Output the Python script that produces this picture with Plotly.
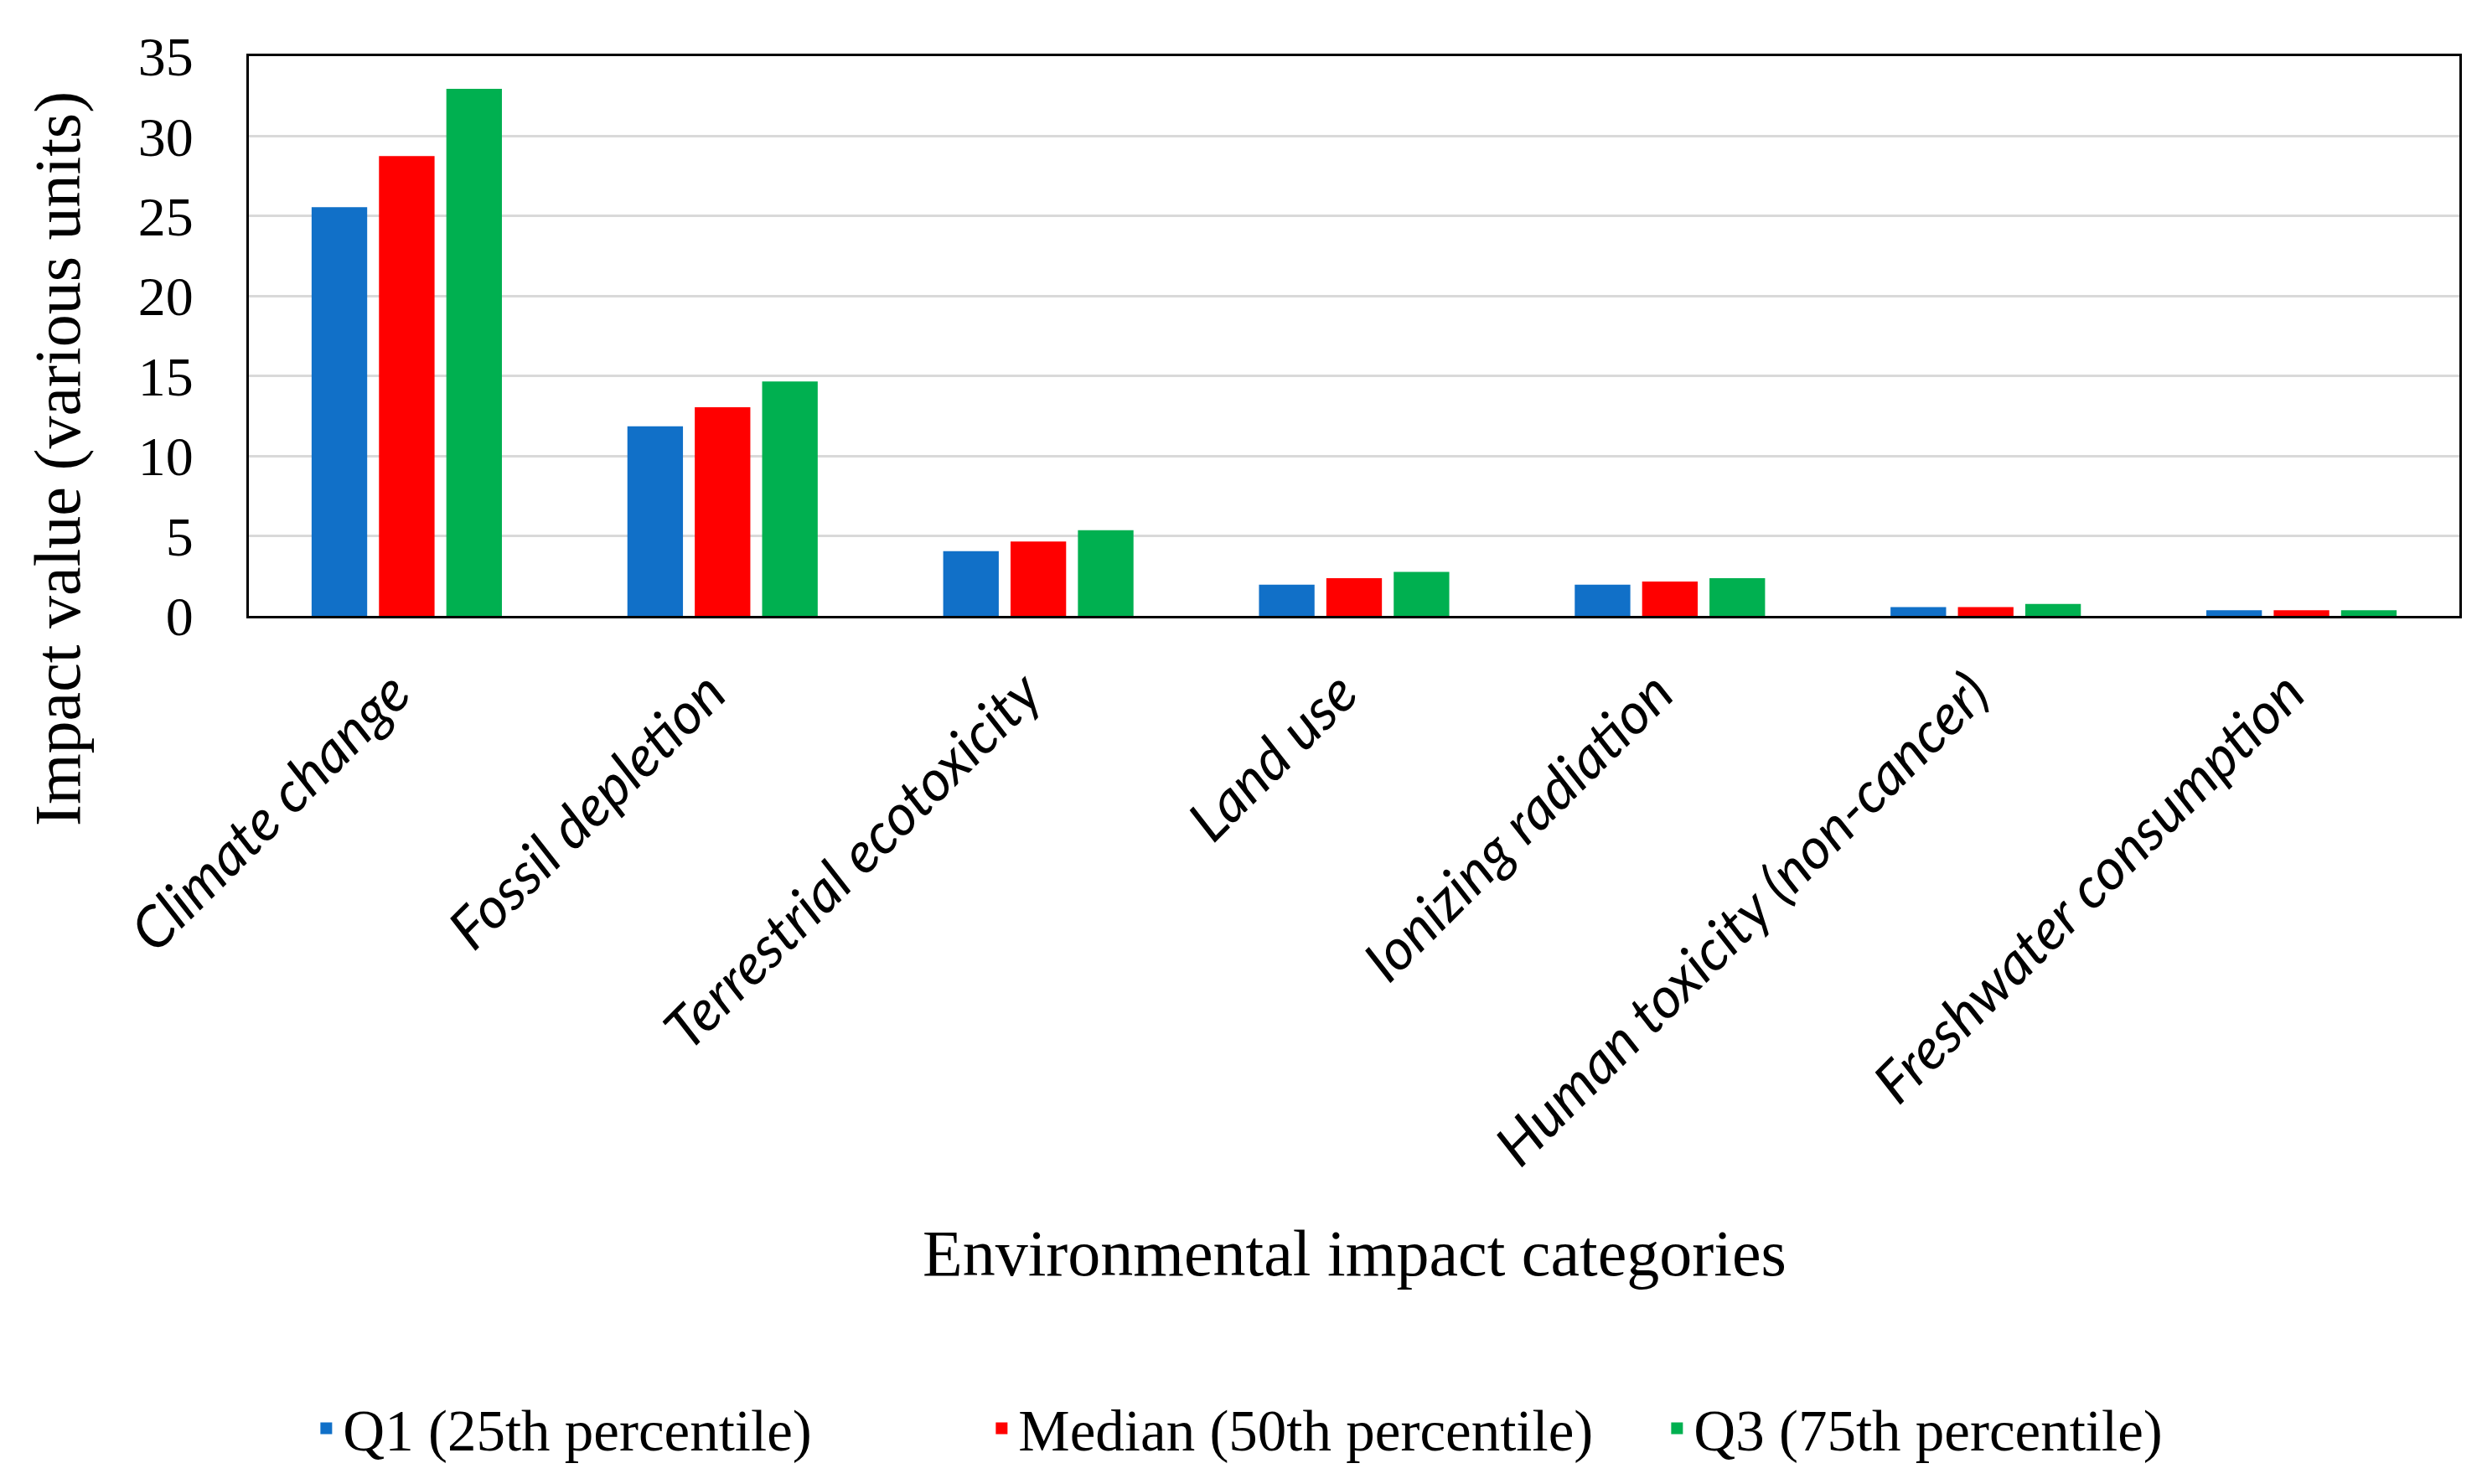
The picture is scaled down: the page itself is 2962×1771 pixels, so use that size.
import plotly.graph_objects as go

categories = ["Climate change", "Fossil depletion", "Terrestrial ecotoxicity", "Land use",
              "Ionizing radiation", "Human toxicity (non-cancer)", "Freshwater consumption"]
q1_values = [25.5, 11.8, 4.0, 1.9, 1.9, 0.5, 0.3]
median_values = [28.7, 13.0, 4.6, 2.3, 2.1, 0.5, 0.3]
q3_values = [32.9, 14.6, 5.3, 2.7, 2.3, 0.7, 0.3]
series_names = ["Q1 (25th percentile)", "Median (50th percentile)", "Q3 (75th percentile)"]
series_colors = ["#1170C8", "#FF0000", "#00B050"]
y_ticks = [0, 5, 10, 15, 20, 25, 30, 35]
x_title = "Environmental impact categories"
y_title = "Impact value (various units)"

SERIF = "Liberation Serif"
SANS = "Lato"

fig = go.Figure()
for name, vals, col in zip(series_names, [q1_values, median_values, q3_values], series_colors):
    fig.add_trace(go.Bar(name=name, x=categories, y=vals,
                         marker=dict(color=col, line=dict(width=2, color=col))))

fig.update_layout(
    width=2962, height=1771,
    paper_bgcolor="white", plot_bgcolor="white",
    barmode="group", bargap=0.36, bargroupgap=0.2,
    margin=dict(l=289, r=35, t=59, b=1044, autoexpand=False),
    legend=dict(orientation="h", xref="container", yref="container", x=0.122, y=0.042,
                xanchor="left", yanchor="middle", font=dict(family=SERIF, size=69, color="#000"),
                entrywidth=761, entrywidthmode="pixels", tracegroupgap=0),
    showlegend=True,
    annotations=[
        dict(text=x_title, xref="paper", yref="paper", x=0.5, y=-1.138, xanchor="center", yanchor="middle",
             showarrow=False, font=dict(family=SERIF, size=78, color="#000")),
        dict(text=y_title, xref="paper", yref="paper", x=-0.0864, y=0.28, xanchor="center", yanchor="middle",
             textangle=-90, showarrow=False, font=dict(family=SERIF, size=78, color="#000")),
    ],
)
fig.update_xaxes(
    showline=True, linecolor="#000", linewidth=3, mirror=True,
    tickangle=-45, tickfont=dict(family=SANS, size=68, color="#000", style="italic"),
    ticks="", ticklabelstandoff=22, ticklabelshift=-16,
)
fig.update_yaxes(
    range=[0, 35], tickvals=y_ticks, showline=True, linecolor="#000", linewidth=3, mirror=True,
    showgrid=True, gridcolor="#D9D9D9", gridwidth=3, zeroline=False,
    tickfont=dict(family=SERIF, size=66, color="#000"), ticks="", ticklabelstandoff=50,
)
fig.write_html("out.html")
